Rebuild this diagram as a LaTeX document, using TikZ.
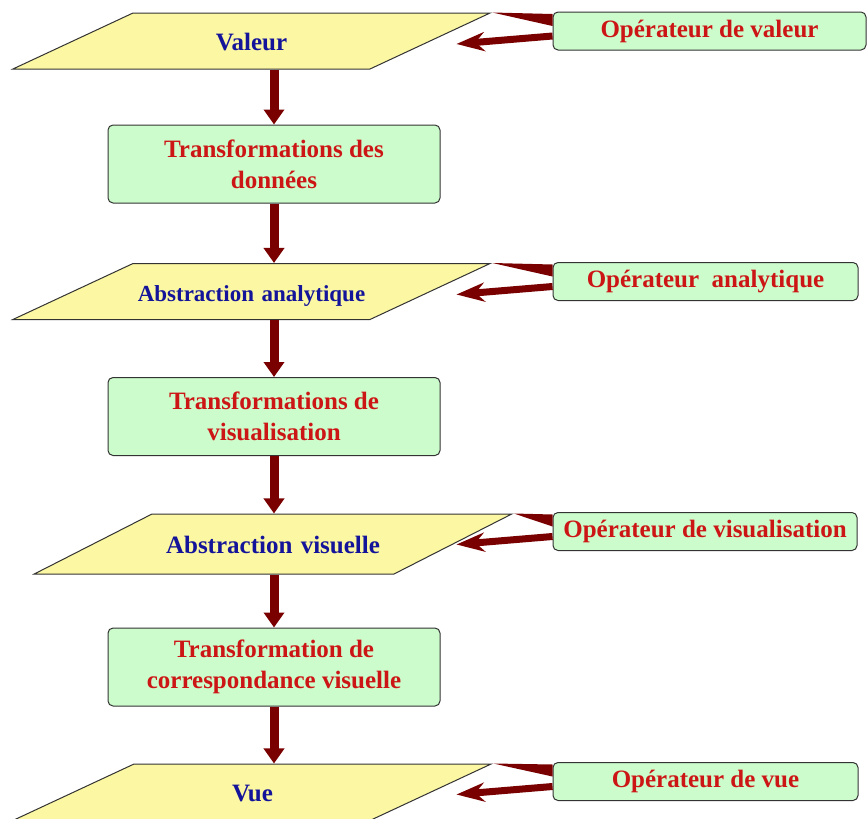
\documentclass[tikz,border=0pt]{standalone}
\usepackage{fontspec}
\setmainfont{Liberation Serif}
\usetikzlibrary{shapes.geometric,arrows.meta}
\definecolor{flowred}{HTML}{7A0000}
\definecolor{datayellow}{HTML}{FBF7A2}
\definecolor{opgreen}{HTML}{CCFCCC}
\definecolor{textblue}{HTML}{14149A}
\definecolor{textred}{HTML}{CC1616}

\begin{document}
\begin{tikzpicture}[x=1pt,y=-1pt,
    data/.style={trapezium, trapezium left angle=25, trapezium right angle=155,
        text width=237pt, align=center, text height=21pt, text depth=2pt, inner xsep=0pt, inner ysep=16.5pt,
        draw=black!80, line width=1pt, fill=datayellow, text=textblue, font=\fontsize{25}{30}\selectfont\bfseries},
    oper/.style={rectangle, rounded corners=5pt, draw=black!80, line width=1pt, fill=opgreen,
        text=textred, minimum height=38pt, inner sep=0pt, font=\fontsize{25}{30}\selectfont\bfseries},
    trans/.style={oper, minimum width=332pt, minimum height=78pt, align=center,
        font=\fontsize{25}{31}\selectfont\bfseries},
    flow/.style={flowred, line width=9pt, -{Triangle[length=15pt,width=20pt]}},
    back/.style={flowred, line width=7pt, -{Stealth[length=28pt,width=19pt,inset=9pt]}}]
    \useasboundingbox (0,0) rectangle (868,819);
    \node[data] (valeur) at (251.5,41) {Valeur};
    \node[oper, minimum width=313pt] (opval) at (709.5,31) {Opérateur de valeur};
    \node[trans] (trdon) at (274,164) {Transformations des\\données};
    \node[data, font=\fontsize{23}{28}\selectfont\bfseries] (absan) at (251.5,291.5) {Abstraction analytique};
    \node[oper, minimum width=305pt] (opan) at (705.5,281.5) {Opérateur~~analytique};
    \node[trans] (trvis) at (274,416.5) {Transformations de\\visualisation};
    \node[data, trapezium left angle=27, trapezium right angle=153, text width=242pt, inner ysep=18.5pt] (absvis) at (273,544) {Abstraction visuelle};
    \node[oper, minimum width=304pt] (opvis) at (705,531.5) {Opérateur de visualisation};
    \node[trans] (trcorr) at (274,667) {Transformation de\\correspondance visuelle};
    \node[data] (vue) at (252.5,792) {Vue};
    \node[oper, minimum width=305pt] (opvue) at (705.5,781.5) {Opérateur de vue};
    \draw[flow] (valeur.south -| trdon.north) -- (trdon.north);
    \draw[flow] (trdon.south) -- (trdon.south |- absan.north);
    \draw[flow] (absan.south -| trvis.north) -- (trvis.north);
    \draw[flow] (trvis.south) -- (trvis.south |- absvis.north);
    \draw[flow] (absvis.south -| trcorr.north) -- (trcorr.north);
    \draw[flow] (trcorr.south) -- (trcorr.south |- vue.north);
    \fill[flowred] (valeur.top right corner) -- ([yshift=17pt]opval.west) -- ([yshift=5pt]opval.west) -- cycle;
    \draw[back] ([yshift=-5pt]opval.west) -- ([xshift=-96pt,yshift=-13pt]opval.west);
    \fill[flowred] (absan.top right corner) -- ([yshift=17pt]opan.west) -- ([yshift=5pt]opan.west) -- cycle;
    \draw[back] ([yshift=-5pt]opan.west) -- ([xshift=-96pt,yshift=-13pt]opan.west);
    \fill[flowred] (absvis.top right corner) -- ([yshift=17pt]opvis.west) -- ([yshift=5pt]opvis.west) -- cycle;
    \draw[back] ([yshift=-5pt]opvis.west) -- ([xshift=-96pt,yshift=-13pt]opvis.west);
    \fill[flowred] (vue.top right corner) -- ([yshift=17pt]opvue.west) -- ([yshift=5pt]opvue.west) -- cycle;
    \draw[back] ([yshift=-5pt]opvue.west) -- ([xshift=-96pt,yshift=-13pt]opvue.west);
\end{tikzpicture}
\end{document}
